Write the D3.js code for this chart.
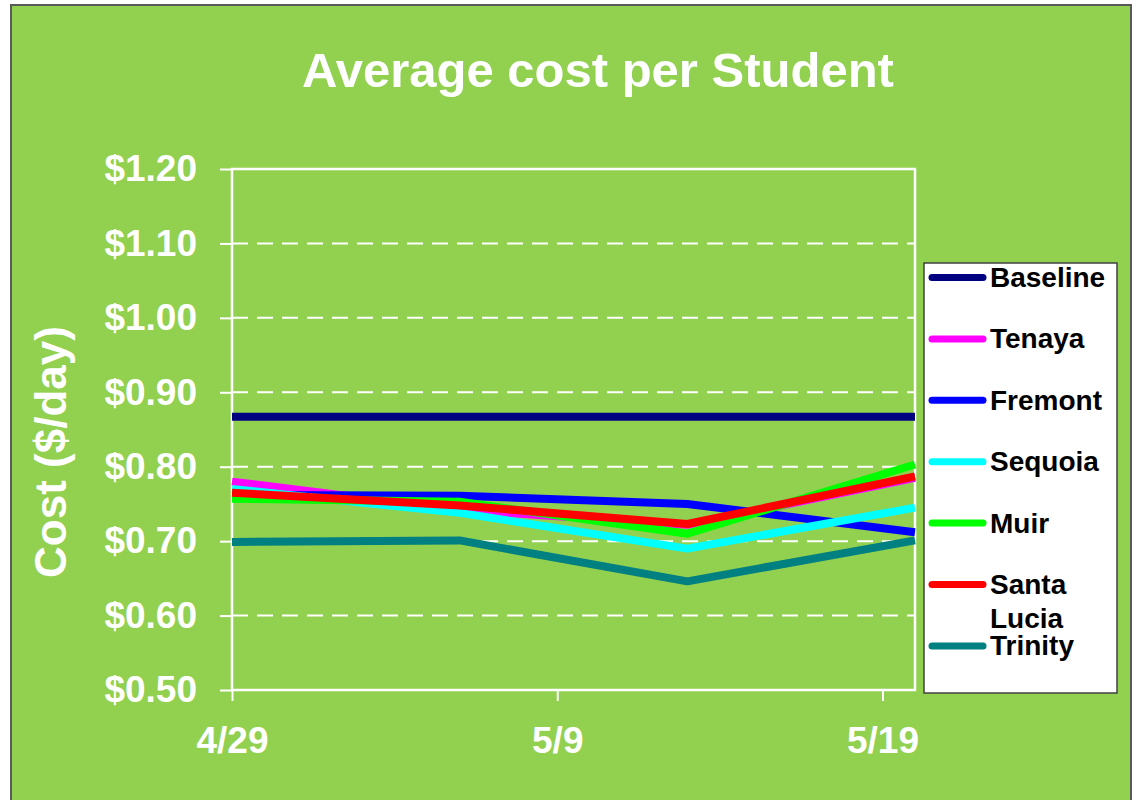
<!DOCTYPE html>
<html>
<head>
<meta charset="utf-8">
<script src="https://cdn.jsdelivr.net/npm/d3@7"></script>
<style>
	body { margin: 0; background: #fff; }
	text { font-family: Arial, "Liberation Sans", sans-serif; font-weight: bold; }
</style>
</head>
<body>
<div id="chart"></div>
<script>

var dates = ['4/29', '5/6', '5/13', '5/20'];
var xTickLabels = ['4/29', '5/9', '5/19'];
var yTicks = [0.50, 0.60, 0.70, 0.80, 0.90, 1.00, 1.10, 1.20];

var seriesNames = ['Baseline', 'Tenaya', 'Fremont', 'Sequoia', 'Muir', 'Santa Lucia', 'Trinity'];
var seriesColors = ['#000080', '#ff00ff', '#0000ff', '#00ffff', '#00ff00', '#ff0000', '#008080'];

var baseline   = [0.867, 0.867, 0.867, 0.867];
var tenaya     = [0.780, 0.742, 0.722, 0.785];
var fremont    = [0.762, 0.761, 0.750, 0.712];
var sequoia    = [0.770, 0.738, 0.690, 0.745];
var muir       = [0.757, 0.753, 0.710, 0.803];
var santaLucia = [0.765, 0.748, 0.723, 0.787];
var trinity    = [0.699, 0.701, 0.646, 0.701];

var seriesValues = [baseline, tenaya, fremont, sequoia, muir, santaLucia, trinity];

window.onload = function(){

	var parseDay = function(s){ return d3.timeParse('%m/%d/%Y')(s + '/2008'); };

	var svg = d3.select('#chart').append('svg').attr('width', 1134).attr('height', 800);

	// chart area
	svg.append('rect')
		.attr('x', 11).attr('y', 5).attr('width', 1120).attr('height', 810)
		.attr('fill', '#92d050').attr('stroke', '#595959').attr('stroke-width', 2);

	svg.append('text')
		.attr('x', 598).attr('y', 87)
		.attr('text-anchor', 'middle')
		.attr('fill', '#fff').attr('font-size', 49)
		.text('Average cost per Student');

	var left = 232, right = 915, top = 169, bottom = 690;

	var x = d3.scaleTime()
		.domain([parseDay(dates[0]), parseDay(dates[dates.length - 1])])
		.range([left, right]);

	var y = d3.scaleLinear()
		.domain([yTicks[0], yTicks[yTicks.length - 1]])
		.range([bottom, top]);

	// gridlines
	svg.append('g').selectAll('line')
		.data(yTicks.slice(1, -1))
		.enter().append('line')
		.attr('x1', left).attr('x2', right)
		.attr('y1', function(d){ return y(d); })
		.attr('y2', function(d){ return y(d); })
		.attr('stroke', '#fff').attr('stroke-width', 2)
		.attr('stroke-dasharray', '16,9');

	var yAxis = svg.append('g')
		.attr('transform', 'translate(' + left + ',0)')
		.call(d3.axisLeft(y).tickValues(yTicks).tickSize(12).tickPadding(23)
			.tickFormat(function(d){ return '$' + d3.format('.2f')(d); }));

	var xAxis = svg.append('g')
		.attr('transform', 'translate(0,' + bottom + ')')
		.call(d3.axisBottom(x).tickValues(xTickLabels.map(parseDay)).tickSize(11).tickPadding(26)
			.tickFormat(d3.timeFormat('%-m/%-d')));

	[yAxis, xAxis].forEach(function(ax){
		ax.select('.domain').remove();
		ax.selectAll('line').attr('stroke', '#fff').attr('stroke-width', 2);
		ax.selectAll('text').attr('fill', '#fff').attr('font-size', 37)
			.style('font-family', 'Arial, "Liberation Sans", sans-serif').style('font-weight', 'bold');
	});

	// plot frame
	svg.append('rect')
		.attr('x', left).attr('y', top)
		.attr('width', right - left).attr('height', bottom - top)
		.attr('fill', 'none').attr('stroke', '#fff').attr('stroke-width', 2.5);

	svg.append('text')
		.attr('transform', 'translate(66,' + 452 + ') rotate(-90)')
		.attr('text-anchor', 'middle')
		.attr('fill', '#fff').attr('font-size', 44)
		.text('Cost ($/day)');

	var line = d3.line()
		.x(function(d, i){ return x(parseDay(dates[i])); })
		.y(function(d){ return y(d); });

	svg.append('g').selectAll('path')
		.data(seriesValues)
		.enter().append('path')
		.attr('d', line)
		.attr('fill', 'none')
		.attr('stroke', function(d, i){ return seriesColors[i]; })
		.attr('stroke-width', 8)
		.attr('stroke-linejoin', 'round');

	// legend
	svg.append('rect')
		.attr('x', 924).attr('y', 263).attr('width', 193).attr('height', 430)
		.attr('fill', '#fff').attr('stroke', '#404040').attr('stroke-width', 1.5);

	var items = svg.append('g').selectAll('g')
		.data(seriesNames)
		.enter().append('g')
		.attr('transform', function(d, i){ return 'translate(0,' + (277.5 + i * 61.4) + ')'; });

	items.append('line')
		.attr('x1', 932).attr('x2', 983)
		.attr('stroke', function(d, i){ return seriesColors[i]; })
		.attr('stroke-width', 7).attr('stroke-linecap', 'round');

	items.append('text')
		.attr('x', 990).attr('y', 9.5)
		.attr('font-size', 28).attr('fill', '#000')
		.each(function(d){
			var t = d3.select(this);
			t.text(d);
			if (this.getComputedTextLength() > 124) {
				t.text(null);
				d.split(' ').forEach(function(w, k){
					t.append('tspan').attr('x', 990).attr('dy', k ? 34 : 0).text(w);
				});
			}
		});
}

</script>
</body>
</html>
